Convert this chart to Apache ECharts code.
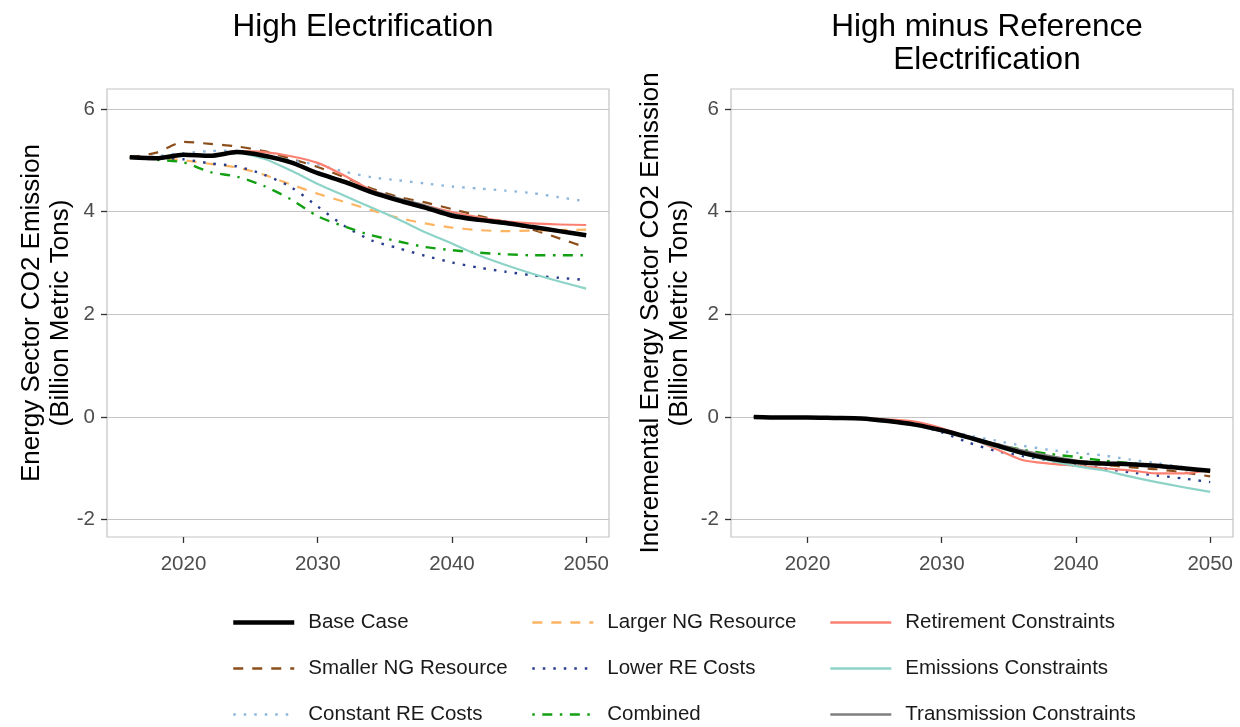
<!DOCTYPE html>
<html>
<head>
<meta charset="utf-8">
<script src="https://cdn.jsdelivr.net/npm/echarts@6/dist/echarts.min.js"></script>
<style>
html,body{margin:0;padding:0;background:#fff;}
#chart{width:1240px;height:727px;}
</style>
</head>
<body>
<div id="chart"></div>
<script>
// ---------- data ----------
const years = [2016,2018,2020,2022,2024,2026,2028,2030,2032,2034,2036,2038,2040,2042,2044,2046,2048,2050];
const xTicks = [2020,2030,2040,2050];
const yTicks = [-2,0,2,4,6];
const scenarioNames = ['Base Case','Smaller NG Resource','Constant RE Costs','Larger NG Resource','Lower RE Costs','Combined','Retirement Constraints','Emissions Constraints','Transmission Constraints'];

// High Electrification (billion metric tons)
const highBase         = [5.06,5.04,5.11,5.09,5.16,5.09,4.96,4.75,4.58,4.38,4.22,4.08,3.92,3.84,3.78,3.70,3.62,3.54];
const highSmallerNG    = [5.06,5.15,5.36,5.32,5.27,5.18,5.03,4.87,4.67,4.45,4.29,4.18,4.05,3.92,3.80,3.65,3.48,3.30];
const highConstantRE   = [5.06,5.08,5.14,5.18,5.19,5.11,5.00,4.91,4.78,4.67,4.61,4.55,4.49,4.45,4.41,4.36,4.28,4.20];
const highLargerNG     = [5.06,5.05,5.00,4.93,4.86,4.72,4.53,4.35,4.19,4.03,3.88,3.77,3.69,3.64,3.62,3.63,3.64,3.65];
const highLowerRE      = [5.06,5.05,5.02,4.94,4.88,4.72,4.48,4.10,3.72,3.44,3.29,3.14,3.01,2.91,2.83,2.76,2.71,2.67];
const highCombined     = [5.06,5.01,4.96,4.77,4.68,4.50,4.24,3.91,3.71,3.54,3.42,3.31,3.25,3.20,3.17,3.15,3.15,3.15];
const highRetirement   = [5.06,5.04,5.11,5.09,5.18,5.16,5.08,4.95,4.70,4.42,4.25,4.12,3.99,3.89,3.81,3.77,3.75,3.74];
const highEmissions    = [5.06,5.04,5.11,5.09,5.14,5.03,4.80,4.54,4.31,4.08,3.85,3.60,3.38,3.15,2.96,2.79,2.64,2.50];
const highTransmission = [5.06,5.04,5.11,5.09,5.16,5.09,4.96,4.76,4.60,4.41,4.26,4.12,3.96,3.86,3.79,3.71,3.63,3.55];

// High minus Reference Electrification
const diffBase         = [0,-0.01,-0.01,-0.02,-0.03,-0.08,-0.15,-0.26,-0.40,-0.55,-0.70,-0.81,-0.88,-0.91,-0.92,-0.95,-1.00,-1.05];
const diffSmallerNG    = [0,-0.01,-0.01,-0.02,-0.03,-0.08,-0.15,-0.26,-0.40,-0.55,-0.70,-0.81,-0.88,-0.93,-0.98,-1.02,-1.08,-1.16];
const diffConstantRE   = [0,-0.01,-0.01,-0.02,-0.03,-0.07,-0.14,-0.25,-0.36,-0.46,-0.56,-0.64,-0.70,-0.75,-0.83,-0.90,-0.98,-1.08];
const diffLargerNG     = [0,-0.01,-0.01,-0.02,-0.03,-0.08,-0.15,-0.26,-0.39,-0.53,-0.66,-0.77,-0.85,-0.90,-0.92,-0.96,-1.01,-1.08];
const diffLowerRE      = [0,-0.01,-0.01,-0.02,-0.03,-0.08,-0.15,-0.30,-0.50,-0.66,-0.76,-0.85,-0.92,-1.00,-1.08,-1.14,-1.20,-1.27];
const diffCombined     = [0,-0.01,-0.01,-0.02,-0.03,-0.08,-0.15,-0.26,-0.40,-0.53,-0.64,-0.72,-0.78,-0.85,-0.90,-0.95,-1.00,-1.05];
const diffRetirement   = [0,-0.01,-0.01,-0.02,-0.03,-0.05,-0.09,-0.22,-0.40,-0.62,-0.84,-0.91,-0.95,-1.00,-1.04,-1.10,-1.10,-1.04];
const diffEmissions    = [0,-0.01,-0.01,-0.02,-0.03,-0.09,-0.17,-0.28,-0.42,-0.58,-0.72,-0.85,-0.96,-1.04,-1.16,-1.27,-1.37,-1.46];
const diffTransmission = [0,-0.01,-0.01,-0.02,-0.03,-0.08,-0.15,-0.26,-0.40,-0.52,-0.65,-0.76,-0.85,-0.90,-0.92,-0.95,-1.00,-1.05];

// ---------- styles ----------
const styles = {
  'Base Case':               {color:'#000000', width:4.5, type:'solid'},
  'Smaller NG Resource':     {color:'#8c4f1c', width:2.2, type:[10,9]},
  'Constant RE Costs':       {color:'#8db6dc', width:2.4, type:[2.5,8]},
  'Larger NG Resource':      {color:'#fdb462', width:2.2, type:[10,9]},
  'Lower RE Costs':          {color:'#283c8e', width:2.4, type:[2.5,8]},
  'Combined':                {color:'#12a012', width:2.4, type:[2.5,7.5,10,7.5]},
  'Retirement Constraints':  {color:'#fb8072', width:2.2, type:'solid'},
  'Emissions Constraints':   {color:'#8dd3c7', width:2.2, type:'solid'},
  'Transmission Constraints':{color:'#7f7f7f', width:2.2, type:'solid'}
};

const highData = {
  'Base Case':highBase,'Smaller NG Resource':highSmallerNG,'Constant RE Costs':highConstantRE,
  'Larger NG Resource':highLargerNG,'Lower RE Costs':highLowerRE,'Combined':highCombined,
  'Retirement Constraints':highRetirement,'Emissions Constraints':highEmissions,'Transmission Constraints':highTransmission
};
const diffData = {
  'Base Case':diffBase,'Smaller NG Resource':diffSmallerNG,'Constant RE Costs':diffConstantRE,
  'Larger NG Resource':diffLargerNG,'Lower RE Costs':diffLowerRE,'Combined':diffCombined,
  'Retirement Constraints':diffRetirement,'Emissions Constraints':diffEmissions,'Transmission Constraints':diffTransmission
};

const drawOrder = ['Smaller NG Resource','Constant RE Costs','Larger NG Resource','Lower RE Costs','Combined','Retirement Constraints','Emissions Constraints','Transmission Constraints','Base Case'];

const FONT = '"Liberation Sans", Arial, sans-serif';
const gridColor = '#c4c4c4';

function makeSeries(dataMap, idx) {
  return drawOrder.map(function(name){
    const s = styles[name];
    return {
      name: name, type: 'line', xAxisIndex: idx, yAxisIndex: idx,
      data: years.map(function(y,i){ return [y, dataMap[name][i]]; }),
      showSymbol: false, symbol: 'none', smooth: 0.25,
      lineStyle: {color: s.color, width: s.width, type: s.type, cap: 'butt', join: 'round'},
      itemStyle: {color: s.color},
      emphasis: {disabled: true}, animation: false
    };
  });
}

function xAxisDef(idx){
  return {
    type:'value', gridIndex: idx, min: 2014.3, max: 2051.7, position:'bottom',
    axisLine:{show:false, onZero:false},
    axisTick:{show:true, length:6, lineStyle:{color:'#333333', width:1.3}, customValues: xTicks},
    axisLabel:{show:true, customValues: xTicks, margin:17, color:'#4d4d4d', fontSize:20.5, fontFamily: FONT,
               formatter:function(v){ return String(v); }},
    splitLine:{show:false}
  };
}
function yAxisDef(idx){
  return {
    type:'value', gridIndex: idx, min: -2.34, max: 6.39,
    axisLine:{show:false, onZero:false},
    axisTick:{show:true, length:6, lineStyle:{color:'#333333', width:1.3}, customValues: yTicks},
    axisLabel:{show:true, customValues: yTicks, margin:12, color:'#4d4d4d', fontSize:20.5, fontFamily: FONT},
    splitLine:{show:true, lineStyle:{color:gridColor, width:1.2}}
  };
}

function legendDef(names, left){
  return {
    orient:'vertical', left:left, top:607, height:118,
    itemWidth:61, itemHeight:20, itemGap:25,
    selectedMode:false,
    data: names.map(function(n){
      const s = styles[n];
      return {
        name:n,
        lineStyle:{color:s.color, width:(n==='Base Case'?4.5:2.6), type:s.type, cap:'butt'},
        itemStyle:{color:'rgba(0,0,0,0)', borderWidth:0, borderColor:'rgba(0,0,0,0)', opacity:0}
      };
    }),
    textStyle:{fontSize:20.5, color:'#1a1a1a', fontFamily: FONT, lineHeight:20, padding:[0,0,0,9]}
  };
}

const option = {
  backgroundColor:'#ffffff',
  animation:false,
  title:[
    {text:'High Electrification', left:358, top:6, textAlign:'center',
     textStyle:{fontSize:31.5, fontWeight:'normal', color:'#000', fontFamily:FONT}},
    {text:'High minus Reference\nElectrification', left:982, top:6, textAlign:'center',
     textStyle:{fontSize:31.5, fontWeight:'normal', color:'#000', fontFamily:FONT, lineHeight:33}}
  ],
  grid:[
    {left:107, top:89, width:502, height:448, show:true, borderColor:gridColor, borderWidth:1.2, backgroundColor:'transparent'},
    {left:731, top:89, width:502, height:448, show:true, borderColor:gridColor, borderWidth:1.2, backgroundColor:'transparent'}
  ],
  xAxis:[xAxisDef(0), xAxisDef(1)],
  yAxis:[yAxisDef(0), yAxisDef(1)],
  legend:[
    legendDef(['Base Case','Smaller NG Resource','Constant RE Costs'], 226),
    legendDef(['Larger NG Resource','Lower RE Costs','Combined'], 526),
    legendDef(['Retirement Constraints','Emissions Constraints','Transmission Constraints'], 824)
  ],
  graphic:[
    {type:'text', x:46, y:313, rotation:Math.PI/2,
     style:{text:'Energy Sector CO2 Emission\n(Billion Metric Tons)', fill:'#000', font:'26px ' + FONT, textAlign:'center', textVerticalAlign:'middle', lineHeight:29}},
    {type:'text', x:665, y:313, rotation:Math.PI/2,
     style:{text:'Incremental Energy Sector CO2 Emission\n(Billion Metric Tons)', fill:'#000', font:'26px ' + FONT, textAlign:'center', textVerticalAlign:'middle', lineHeight:29}}
  ],
  series: makeSeries(highData, 0).concat(makeSeries(diffData, 1))
};

const chart = echarts.init(document.getElementById('chart'), null, {renderer:'canvas'});
chart.setOption(option);
</script>
</body>
</html>
